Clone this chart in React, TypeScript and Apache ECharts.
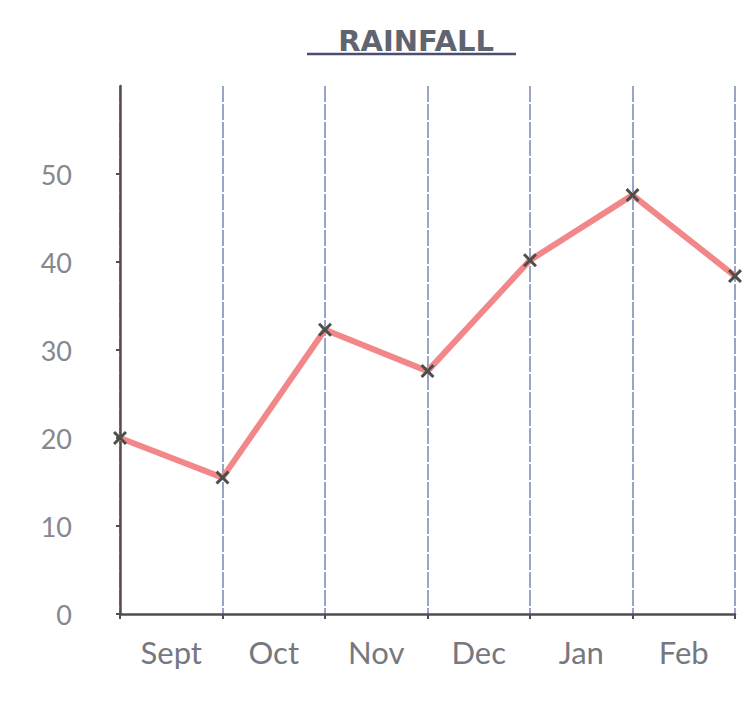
import React, { useEffect, useRef } from "react";
import * as echarts from "echarts";

const boundaries = ["Sep 1", "Oct 1", "Nov 1", "Dec 1", "Jan 1", "Feb 1", "Mar 1"];
const months = ["Sept", "Oct", "Nov", "Dec", "Jan", "Feb"];
const rainfall = [20, 15.5, 32.3, 27.6, 40.2, 47.6, 38.4];
const yTicks = [0, 10, 20, 30, 40, 50];

const crossPath =
  "path://M0,1.5L1.5,0L5,3.5L8.5,0L10,1.5L6.5,5L10,8.5L8.5,10L5,6.5L1.5,10L0,8.5L3.5,5Z";

export default function App() {
  const ref = useRef<HTMLDivElement>(null);
  useEffect(() => {
    if (!ref.current) return;
    const chart = echarts.init(ref.current, undefined, { renderer: "svg" });
    chart.setOption({
      animation: false,
      backgroundColor: "#ffffff",
      title: {
        text: "RAINFALL",
        left: 411,
        top: 21,
        textAlign: "center",
        textStyle: {
          fontFamily: "DejaVu Sans",
          fontSize: 29,
          fontWeight: "bold",
          color: "#5f6470",
        },
      },
      graphic: [
        {
          type: "line",
          shape: { x1: 307, y1: 54, x2: 516, y2: 54 },
          style: { stroke: "#4a4e70", lineWidth: 2.5 },
        },
      ],
      grid: { left: 120, right: 20, top: 86, bottom: 88 },
      xAxis: [
        {
          type: "category",
          data: boundaries,
          boundaryGap: false,
          axisLine: { show: true, lineStyle: { color: "#4d4d55", width: 2.5 } },
          axisTick: { show: true, length: 5, lineStyle: { color: "#4d4d55", width: 2 } },
          axisLabel: { show: false },
          splitLine: {
            show: true,
            lineStyle: { color: "#8f9cc0", width: 1.8, type: [16, 2] },
          },
        },
        {
          type: "category",
          data: months,
          boundaryGap: true,
          position: "bottom",
          axisLine: { show: false },
          axisTick: { show: false },
          splitLine: { show: false },
          axisLabel: {
            show: true,
            margin: 22,
            fontFamily: "Lato",
            fontSize: 31,
            color: "#757880",
          },
        },
      ],
      yAxis: {
        type: "value",
        min: 0,
        max: 60,
        interval: 10,
        axisLine: { show: true, lineStyle: { color: "#5a4a4a", width: 2.5 } },
        axisTick: {
          show: true,
          length: 4,
          customValues: yTicks,
          lineStyle: { color: "#5a4a4a", width: 2 },
        },
        splitLine: { show: false },
        axisLabel: {
          show: true,
          margin: 48,
          fontFamily: "Lato",
          fontSize: 27,
          color: "#858890",
          customValues: yTicks,
        },
      },
      series: [
        {
          type: "line",
          xAxisIndex: 0,
          data: rainfall,
          symbol: crossPath,
          symbolSize: 14,
          itemStyle: { color: "#4a4f4a" },
          lineStyle: { color: "#f2878a", width: 6 },
          z: 5,
        },
      ],
    });
    return () => chart.dispose();
  }, []);
  return (
    <div
      ref={ref}
      style={{ position: "fixed", left: 0, top: 0, width: 755, height: 702 }}
    />
  );
}
